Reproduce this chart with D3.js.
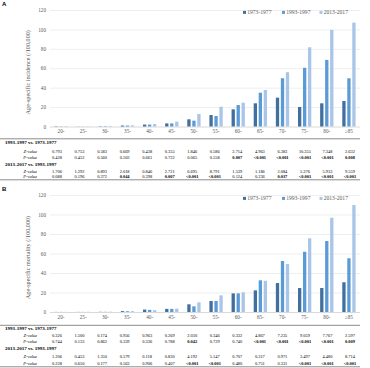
<!DOCTYPE html>
<html>
<head>
<meta charset="utf-8">
<script src="https://cdn.jsdelivr.net/npm/d3@7"></script>
<style>
  body { margin: 0; background: #fff; }
  svg { display: block; font-family: "Liberation Serif", "DejaVu Serif", serif; }
  .tick text { fill: #595959; }
</style>
</head>
<body>
<div id="chart"></div>
<script>
const ageGroups = ["20-", "25-", "30-", "35-", "40-", "45-", "50-", "55-", "60-", "65-", "70-", "75-", "80-", "\u226585"];
const periods = ["1973-1977", "1993-1997", "2013-2017"];
const yTicks = [0, 20, 40, 60, 80, 100, 120];

// A: incidence per 100,000
const incidence1973 = [0.3, 0.1, 0.3, 1.0, 2.0, 3.2, 7.4, 11.8, 17.7, 23.9, 29.7, 20.1, 23.9, 26.3];
const incidence1993 = [0.2, 0.1, 0.4, 1.0, 2.0, 3.2, 6.0, 10.8, 22.1, 34.8, 49.7, 60.5, 68.6, 49.7];
const incidence2013 = [0.4, 0.2, 0.6, 1.2, 2.5, 5.0, 12.9, 20.4, 24.5, 37.6, 55.9, 81.6, 99.5, 107.0];

const incZ1 = ["0.793", "0.753", "0.583", "0.669", "0.438", "0.355", "1.846", "0.586", "2.714", "4.963", "6.383", "10.355", "7.348", "2.632"];
const incP1 = ["0.428", "0.452", "0.560", "0.503", "0.661", "0.722", "0.065", "0.558", "0.007", "<0.001", "<0.001", "<0.001", "<0.001", "0.008"];
const incZ2 = ["1.706", "1.292", "0.893", "2.018", "0.846", "2.721", "6.695", "8.791", "1.539", "1.186", "2.084", "5.376", "5.933", "9.559"];
const incP2 = ["0.088", "0.196", "0.372", "0.044", "0.398", "0.007", "<0.001", "<0.001", "0.124", "0.236", "0.037", "<0.001", "<0.001", "<0.001"];

// B: mortality per 100,000
const mortality1973 = [0.1, 0.1, 0.2, 0.9, 2.5, 3.2, 7.9, 11.3, 19.1, 22.2, 29.7, 24.6, 24.6, 30.5];
const mortality1993 = [0.1, 0.1, 0.2, 0.8, 2.2, 3.2, 5.8, 11.3, 19.1, 32.5, 52.3, 61.8, 72.8, 55.1];
const mortality2013 = [0.1, 0.2, 0.3, 0.9, 1.9, 3.5, 9.9, 17.1, 20.2, 32.0, 49.3, 75.6, 96.7, 109.7];

const morZ1 = ["0.326", "1.500", "0.174", "0.956", "0.963", "0.269", "2.030", "0.346", "0.332", "4.867", "7.235", "9.059", "7.767", "2.597"];
const morP1 = ["0.744", "0.133", "0.862", "0.339", "0.336", "0.788", "0.042", "0.729", "0.740", "<0.001", "<0.001", "<0.001", "<0.001", "0.009"];
const morZ2 = ["1.206", "0.453", "1.350", "0.579", "0.118", "0.830", "4.192", "5.147", "0.707", "0.317", "0.971", "3.497", "4.480", "8.714"];
const morP2 = ["0.228", "0.650", "0.177", "0.563", "0.906", "0.407", "<0.001", "<0.001", "0.480", "0.751", "0.331", "<0.001", "<0.001", "<0.001"];

const colors = ["#41709f", "#5b9bd5", "#a9c5e7"];

const w = 370, h = 368;
const left = 50, right = 360;

const svg = d3.select("#chart").append("svg")
  .attr("width", w)
  .attr("height", h);

const x0 = d3.scaleBand().domain(ageGroups).range([left, right]).paddingInner(0.4).paddingOuter(0.2);
const x1 = d3.scaleBand().domain(periods).range([0, x0.bandwidth()]).paddingInner(0.34);
const xTable = d3.scalePoint().domain(ageGroups).range([57, 350]);

function drawPanel(p) {
  const g = svg.append("g");
  const y = d3.scaleLinear().domain([0, 120]).range([p.y0, p.y120]);

  g.append("text")
    .attr("x", 2).attr("y", p.y120 - 4)
    .attr("font-family", "Liberation Sans, Arial, sans-serif")
    .attr("font-weight", "bold").attr("font-size", 6)
    .text(p.letter);

  // gridlines
  g.append("g")
    .attr("transform", "translate(" + left + ",0)")
    .call(d3.axisLeft(y).tickValues(yTicks).tickSize(-(right - left)).tickFormat(""))
    .call(s => s.select(".domain").remove())
    .call(s => s.selectAll("line").attr("stroke", d => d === 0 ? "#bfbfbf" : "#e3e3e3").attr("stroke-width", 0.6));

  // y labels
  g.append("g")
    .attr("transform", "translate(" + (left - 4) + ",0)")
    .call(d3.axisLeft(y).tickValues(yTicks).tickSize(0).tickPadding(0))
    .call(s => s.select(".domain").remove())
    .call(s => s.selectAll("text").attr("font-size", 5.2).attr("font-family", "Liberation Serif, serif"));

  g.append("text")
    .attr("transform", "translate(" + 30 + "," + ((p.y0 + p.y120) / 2 + 4) + ") rotate(-90)")
    .attr("text-anchor", "middle")
    .attr("fill", "#595959")
    .attr("font-size", 6.2)
    .text(p.yTitle);

  // bars
  const groups = g.selectAll(".grp")
    .data(ageGroups.map((a, i) => ({ age: a, vals: p.series.map((s, k) => ({ period: periods[k], v: s[i], c: colors[k] })) })))
    .enter().append("g")
    .attr("transform", d => "translate(" + x0(d.age) + ",0)");

  groups.selectAll("rect")
    .data(d => d.vals)
    .enter().append("rect")
    .attr("x", d => x1(d.period))
    .attr("width", x1.bandwidth())
    .attr("y", d => y(d.v))
    .attr("height", d => y(0) - y(d.v))
    .attr("fill", d => d.c);

  // x labels
  g.append("g")
    .attr("transform", "translate(0," + (p.y0 + 3) + ")")
    .call(d3.axisBottom(x0).tickSize(0).tickPadding(0))
    .call(s => s.select(".domain").remove())
    .call(s => s.selectAll("text").attr("font-size", 5.2).attr("font-family", "Liberation Serif, serif"));

  // legend
  const lg = g.append("g").attr("transform", "translate(0," + p.legendY + ")");
  const legendX = [243, 282, 319.5];
  periods.forEach((per, k) => {
    lg.append("rect").attr("x", legendX[k]).attr("y", -1.6).attr("width", 3).attr("height", 3).attr("fill", colors[k]);
    lg.append("text").attr("x", legendX[k] + 4.2).attr("y", 1.9)
      .attr("font-size", 5.6).attr("fill", "#595959").text(per);
  });

  // table
  const t = p.table;
  g.append("line").attr("x1", 0).attr("x2", right).attr("y1", t.top).attr("y2", t.top)
    .attr("stroke", "#7f7f7f").attr("stroke-width", 0.9);
  g.append("line").attr("x1", 0).attr("x2", right).attr("y1", t.bottom).attr("y2", t.bottom)
    .attr("stroke", "#7f7f7f").attr("stroke-width", 0.9);

  const blocks = [
    { title: "1993-1997 vs. 1973-1977", z: p.z1, pv: p.p1, rows: t.rows1 },
    { title: "2013-2017 vs. 1993-1997", z: p.z2, pv: p.p2, rows: t.rows2 }
  ];
  blocks.forEach(b => {
    g.append("text").attr("x", 5).attr("y", b.rows[0])
      .attr("font-size", 5).attr("font-weight", "bold").text(b.title);
    [["Z-value", b.z, b.rows[1]], ["P-value", b.pv, b.rows[2]]].forEach(r => {
      g.append("text").attr("x", 37).attr("y", r[2]).attr("text-anchor", "end")
        .attr("font-size", 4.4).attr("font-style", "italic").text(r[0]);
      g.selectAll(null).data(r[1]).enter().append("text")
        .attr("x", (d, i) => xTable(ageGroups[i]))
        .attr("y", r[2])
        .attr("text-anchor", "middle")
        .attr("font-size", 4.4)
        .attr("font-weight", d => (r[0] === "P-value" && (d.startsWith("<") || +d < 0.05)) ? "bold" : "normal")
        .text(d => d);
    });
  });
}

drawPanel({
  letter: "A", y0: 126.5, y120: 10, legendY: 12.5,
  yTitle: "Age-specific incidence (/100,000)",
  series: [incidence1973, incidence1993, incidence2013],
  z1: incZ1, p1: incP1, z2: incZ2, p2: incP2,
  table: { top: 138.8, bottom: 179.8, rows1: [144, 153, 159], rows2: [166, 172.6, 178.3] }
});

drawPanel({
  letter: "B", y0: 312, y120: 195, legendY: 198.5,
  yTitle: "Age-specific mortality (/100,000)",
  series: [mortality1973, mortality1993, mortality2013],
  z1: morZ1, p1: morP1, z2: morZ2, p2: morP2,
  table: { top: 325.3, bottom: 366.8, rows1: [330, 337.2, 343.2], rows2: [350.3, 357.5, 364.7] }
});
</script>
</body>
</html>
